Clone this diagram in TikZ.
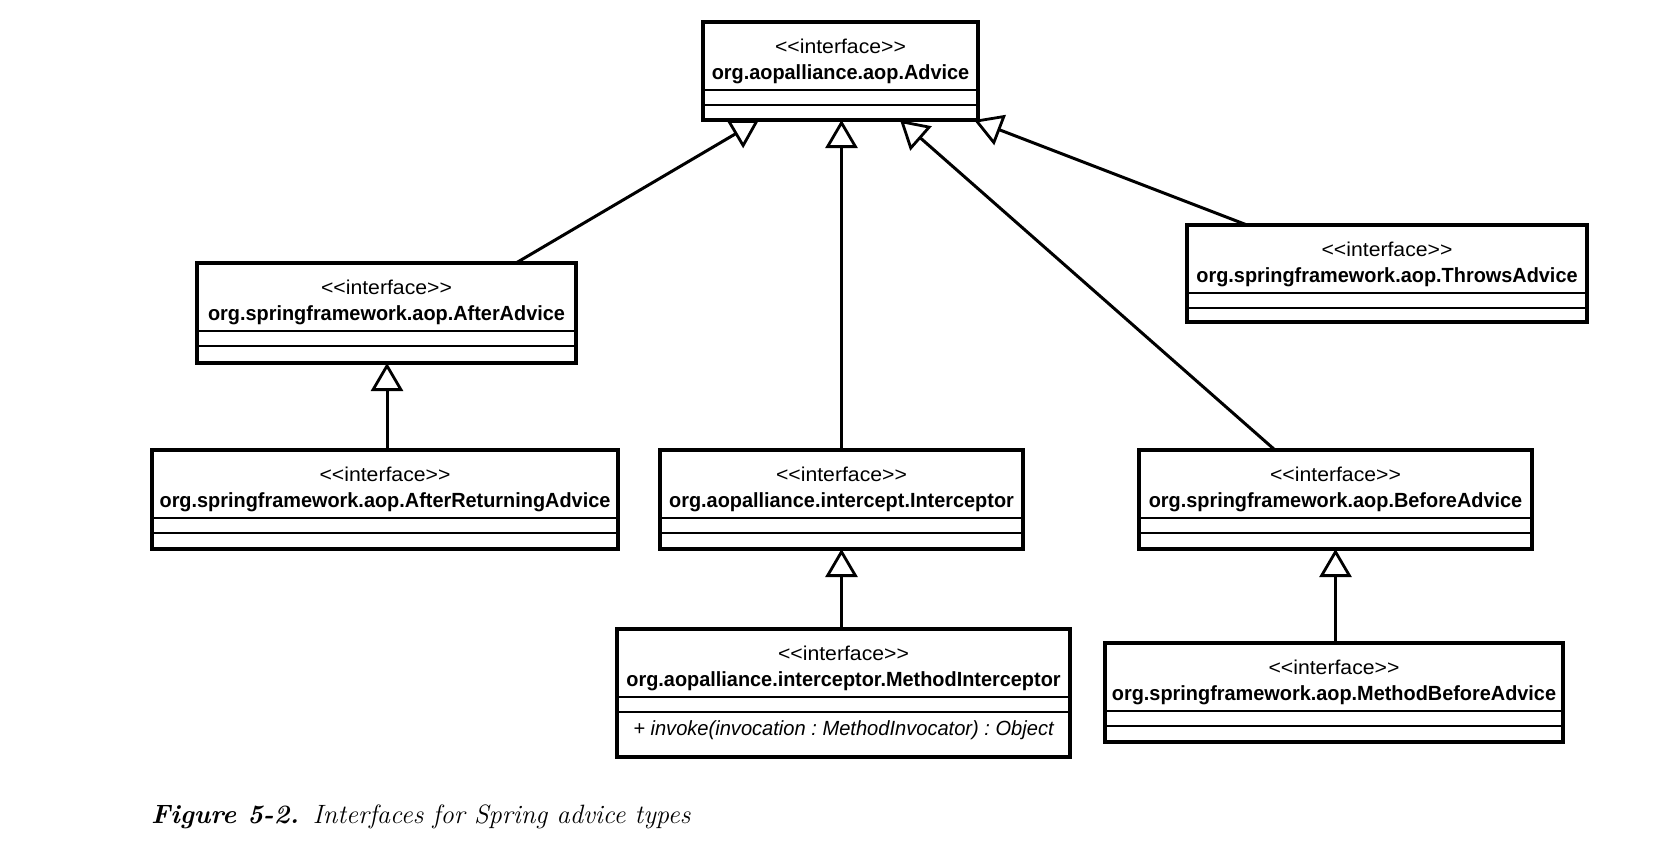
\documentclass[tikz,border=0pt]{standalone}
\usepackage{fontspec}
\usetikzlibrary{arrows.meta,calc}
\newfontfamily\umlbf[FakeStretch=0.97]{Liberation Sans}
\newfontfamily\umlrg[FakeStretch=1.06]{Liberation Sans}
\newfontfamily\umlit[FakeStretch=0.98]{Liberation Sans}
\tikzset{
  classbox/.style={draw, fill=white, line width=3.1pt, inner sep=0pt, outer sep=0pt},
  stereo/.style={inner sep=0pt, font=\umlrg\fontsize{20}{24}\selectfont},
  ctitle/.style={inner sep=0pt, font=\umlbf\bfseries\fontsize{20.5}{24}\selectfont},
  cmethod/.style={inner sep=0pt, font=\umlit\itshape\fontsize{20.5}{24}\selectfont},
  sepline/.style={line width=2.6pt},
  inh/.style={line width=3pt, -{Triangle[fill=white, length=28pt, width=32pt, line width=2.8pt]}},
}
\newcommand\umlbox[6]{%
  \node[classbox, minimum width=#4pt, minimum height=#5pt, anchor=north west] (#1) at (#2,#3) {};
  \node[stereo, anchor=base] (#1-st) at ([yshift=-31pt]#1.north) {<\kern0pt<interface>\kern0pt>};
  \node[ctitle, anchor=base] (#1-ti) at ([yshift=-57pt]#1.north) {#6};
  \draw[sepline] ([yshift=-68pt]#1.north west) -- ([yshift=-68pt]#1.north east);
  \draw[sepline] ([yshift=-83pt]#1.north west) -- ([yshift=-83pt]#1.north east);
}
\begin{document}
\frenchspacing
\begin{tikzpicture}[x=1pt, y=-1pt]
\fill[white] (0,0) rectangle (1667,844);
\useasboundingbox (0,0) rectangle (1667,844);

% boxes
\umlbox{advice}{703}{22}{275}{98}{org.aopalliance.aop.Advice}
\umlbox{aftadv}{197}{263}{379}{100}{org.springframework.aop.AfterAdvice}
\umlbox{throws}{1187}{225}{400}{97}{org.springframework.aop.ThrowsAdvice}
\umlbox{aftret}{152}{450}{466}{99}{org.springframework.aop.AfterReturningAdvice}
\umlbox{intcp}{660}{450}{363}{99}{org.aopalliance.intercept.Interceptor}
\umlbox{befadv}{1139}{450}{393}{99}{org.springframework.aop.BeforeAdvice}
\umlbox{methint}{617}{629}{453}{128}{org.aopalliance.interceptor.MethodInterceptor}
\umlbox{metbef}{1105}{643}{458}{99}{org.springframework.aop.MethodBeforeAdvice}
\node[cmethod, anchor=base] (methint-m) at ([yshift=-106pt]methint.north) {+ invoke(invocation : MethodInvocator) : Object};

% connector end points
\coordinate (s1) at ([xshift=319pt]aftadv.north west);
\coordinate (t1) at ([xshift=56pt]advice.south west);
\coordinate (s3) at ([xshift=136pt]befadv.north west);
\coordinate (t3) at ([xshift=197pt]advice.south west);
\coordinate (s4) at ([xshift=60pt]throws.north west);
\coordinate (t4) at ([xshift=271pt]advice.south west);

% connectors
\draw[inh] (s1) -- (t1);
\draw[inh] (intcp.north) -- (intcp.north |- advice.south);
\draw[inh] (s3) -- (t3);
\draw[inh] (s4) -- (t4);
\draw[inh] ([xshift=2pt]aftret.north) -- ([xshift=2pt]aftret.north |- aftadv.south);
\draw[inh] (intcp.south |- methint.north) -- (intcp.south);
\draw[inh] (befadv.south |- metbef.north) -- (befadv.south);

% caption
\node[anchor=base west, inner sep=0pt, font=\fontsize{26.5}{32}\selectfont] (caption) at (151,823)
  {\bfseries\itshape Figure 5-2.\hspace{14pt}\mdseries Interfaces for Spring advice types};
\end{tikzpicture}
\end{document}
